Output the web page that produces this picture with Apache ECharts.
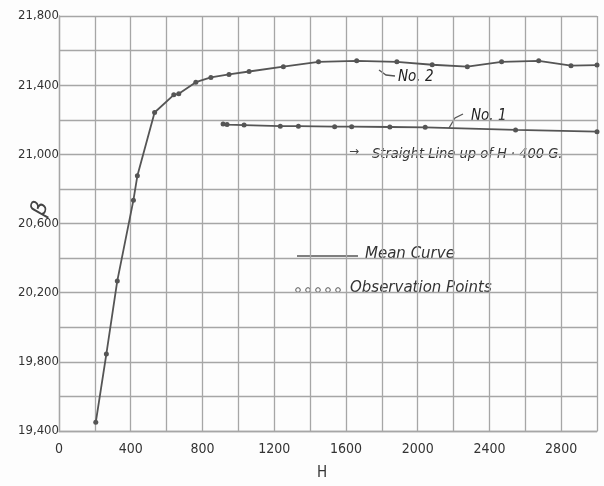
<!DOCTYPE html>
<html>
<head>
<meta charset="utf-8">
<script src="https://cdn.jsdelivr.net/npm/echarts@6/dist/echarts.min.js"></script>
<style>
  html, body { margin: 0; padding: 0; background: #fdfdfd; }
  #chart { width: 604px; height: 486px; }
</style>
</head>
<body>
<div id="chart"></div>
<script>
// H values (gauss) and B readings for curve No. 2 (mean curve)
const meanH = [205, 264, 325, 415, 437, 533, 640, 668, 763, 847, 948, 1060, 1251, 1447, 1660, 1884, 2081, 2277, 2468, 2675, 2855, 3000]
const meanB = [19450, 19845, 20268, 20735, 20876, 21242, 21344, 21350, 21417, 21445, 21462, 21479, 21507, 21535, 21541, 21535, 21518, 21507, 21535, 21541, 21513, 21516]

// curve No. 1 (straight line)
const lineH = [915, 937, 1032, 1234, 1335, 1537, 1632, 1845, 2042, 2546, 3000]
const lineB = [21175, 21172, 21169, 21163, 21163, 21160, 21160, 21158, 21156, 21141, 21131]

const lineColor = '#555555'
const gridColor = '#a6a6a6'
const hand = 'DejaVu Sans Condensed'

const chart = echarts.init(document.getElementById('chart'), null, { renderer: 'canvas' })

function pairs (xs, ys) {
  return xs.map((x, i) => [x, ys[i]])
}

const options = {
  backgroundColor: '#fdfdfd',
  animation: false,
  grid: { left: 59, right: 7, top: 16, bottom: 44, containLabel: false },
  xAxis: {
    type: 'value',
    min: 0,
    max: 3000,
    interval: 200,
    name: 'H',
    nameLocation: 'middle',
    nameGap: 35,
    nameTextStyle: { fontFamily: hand, fontSize: 15, color: '#333', padding: [0, 12, 0, 0] },
    axisLine: { show: true, lineStyle: { color: gridColor, width: 1.3 } },
    axisTick: { show: false },
    splitLine: { show: true, lineStyle: { color: gridColor, width: 1.3 } },
    axisLabel: {
      fontFamily: hand,
      fontSize: 14,
      color: '#333',
      margin: 11,
      formatter: v => (v % 400 === 0 ? String(v) : '')
    }
  },
  yAxis: {
    type: 'value',
    min: 19400,
    max: 21800,
    interval: 200,
    axisLine: { show: true, lineStyle: { color: gridColor, width: 1.3 } },
    axisTick: { show: false },
    splitLine: { show: true, lineStyle: { color: gridColor, width: 1.3 } },
    axisLabel: {
      fontFamily: hand,
      fontSize: 13,
      color: '#333',
      margin: 0,
      formatter: v => ((v - 19400) % 400 === 0 ? v.toLocaleString('en-US') : '')
    }
  },
  series: [
    {
      name: 'No. 2',
      type: 'line',
      data: pairs(meanH, meanB),
      symbol: 'circle',
      symbolSize: 5,
      clip: true,
      lineStyle: { color: lineColor, width: 1.8 },
      itemStyle: { color: lineColor }
    },
    {
      name: 'No. 1',
      type: 'line',
      data: pairs(lineH, lineB),
      symbol: 'circle',
      symbolSize: 5,
      clip: true,
      lineStyle: { color: lineColor, width: 1.8 },
      itemStyle: { color: lineColor }
    }
  ],
  graphic: [
    // y axis symbol
    {
      type: 'text', x: 28, y: 212, rotation: 1.25,
      style: { text: 'β', font: 'italic 22px "DejaVu Sans"', fill: '#444' }
    },
    // curve labels
    {
      type: 'text', x: 398, y: 70,
      style: { text: 'No. 2', font: 'italic 15px "DejaVu Sans Condensed"', fill: '#222' }
    },
    {
      type: 'polyline',
      shape: { points: [[395, 76], [386, 75], [379, 70]] },
      style: { stroke: '#555', lineWidth: 1.3, fill: null }
    },
    {
      type: 'text', x: 471, y: 109,
      style: { text: 'No. 1', font: 'italic 15px "DejaVu Sans Condensed"', fill: '#222' }
    },
    {
      type: 'polyline',
      shape: { points: [[463, 114], [455, 118], [449, 128]] },
      style: { stroke: '#555', lineWidth: 1.3, fill: null }
    },
    {
      type: 'text', x: 349, y: 146,
      style: { text: '→', font: '12px "DejaVu Sans"', fill: '#444' }
    },
    {
      type: 'text', x: 372, y: 147,
      style: { text: 'Straight Line up of H · 400 G.', font: 'italic 14.5px "DejaVu Sans Condensed"', fill: '#333' }
    },
    // legend
    {
      type: 'line',
      shape: { x1: 297, y1: 256, x2: 358, y2: 256 },
      style: { stroke: lineColor, lineWidth: 1.6 }
    },
    {
      type: 'text', x: 365, y: 247,
      style: { text: 'Mean Curve', font: 'italic 15px "DejaVu Sans"', fill: '#333' }
    },
    ...[298, 308, 318, 328, 338].map(cx => ({
      type: 'circle',
      shape: { cx: cx, cy: 290, r: 2.3 },
      style: { stroke: '#555', lineWidth: 1, fill: '#fdfdfd' }
    })),
    {
      type: 'text', x: 350, y: 281,
      style: { text: 'Observation Points', font: 'italic 15px "DejaVu Sans"', fill: '#333' }
    }
  ]
}

chart.setOption(options)
</script>
</body>
</html>
